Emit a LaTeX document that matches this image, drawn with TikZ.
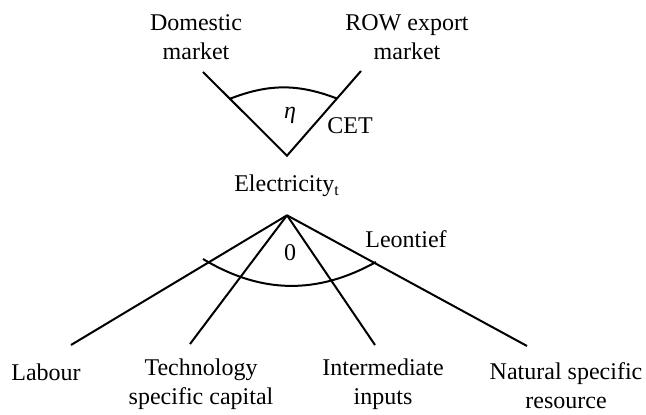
\documentclass[tikz,border=0pt]{standalone}
\usepackage{fontspec}
\setmainfont{Liberation Serif}
\usetikzlibrary{positioning,calc}

\begin{document}
\begin{tikzpicture}[
    x=0.5pt, y=-0.5pt,
    label/.style={align=center, inner sep=0pt, font=\fontsize{12}{14.5}\selectfont},
    branch/.style={line width=1pt},
    nest/.style={line width=1pt}
]
    \useasboundingbox (0,0) rectangle (646,415);

    % Upper nest (CET)
    \node[label] (dom) at (196,37) {Domestic\\market};
    \node[label] (row) at (407,37) {ROW export\\market};
    \node[label] (elec) at (287,186) {Electricity\textsubscript{t}};
    \coordinate[above=9.5pt of elec] (cetroot);
    \coordinate (domend) at (203,72);
    \coordinate (rowend) at (361,71);
    \node[label] (eta) at (290,115) {\itshape η};
    \node[label] (cet) at (350,126) {CET};

    \draw[branch] (domend) -- (cetroot) -- (rowend);
    \draw[nest] ($(cetroot)!0.68!(domend)$) to[bend left=21] ($(cetroot)!0.675!(rowend)$);

    % Lower nest (Leontief)
    \coordinate[below=9pt of elec] (leoroot);
    \node[label] (zero) at (290,253) {0};
    \node[label] (leon) at (406,239) {Leontief};

    \node[label] (labour) at (46,372) {Labour};
    \node[label] (tech) at (201,384) {Technology\\specific capital};
    \node[label] (inter) at (383,384) {Intermediate\\inputs};
    \node[label] (nat) at (566,386) {Natural specific\\resource};

    \coordinate (labend) at (71,345);
    \coordinate (techend) at (190,344);
    \coordinate (interend) at (375,345);
    \coordinate (natend) at (527,346);
    \foreach \e in {labend,techend,interend,natend}
        \draw[branch] (leoroot) -- (\e);

    \coordinate (arcl) at (203,259);
    \coordinate (arcr) at (376,262);
    \draw[nest] (arcl) to[bend right=30] (arcr);
\end{tikzpicture}
\end{document}
